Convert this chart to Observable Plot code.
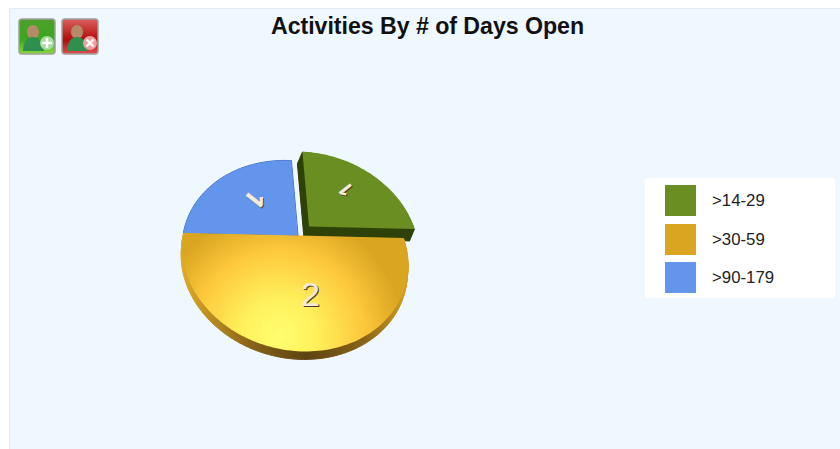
<!DOCTYPE html>
<html><head><meta charset="utf-8">
<script src="https://cdn.jsdelivr.net/npm/d3@7"></script>
<script src="https://cdn.jsdelivr.net/npm/@observablehq/plot@0.6"></script>
<style>
html,body{margin:0;padding:0;background:#fff;width:840px;height:449px;overflow:hidden;font-family:"Liberation Sans",Arial,sans-serif}
#panel{position:absolute;left:9px;top:8px;width:831px;height:441px;background:#eff7ff;border-left:1px solid #dfe8f0;border-top:1px solid #e4ecf4;box-sizing:border-box}
#chart{position:absolute;left:0;top:0}
#title{position:absolute;left:271px;top:13px;font-size:23.2px;font-weight:bold;color:#111;white-space:nowrap;letter-spacing:-.05px}
#legend{position:absolute;left:645px;top:178px;width:190px;height:120px;background:#fff;border-radius:2px}
.row{position:absolute;left:20px;width:170px;height:31px}
.sw{position:absolute;left:0;top:0;width:31px;height:31px}
.lb{position:absolute;left:47px;top:6px;font-size:16.8px;color:#222;white-space:nowrap}
.btn{position:absolute;top:18px;width:36px;height:34px}
</style></head><body>
<div id="panel"></div>
<div id="chart"></div>
<div id="title"></div>
<div id="legend"></div>
<svg class="btn" style="left:18px;width:38px;height:37px" viewBox="0 0 38 37"><defs><linearGradient id="gb" x1="0" y1="0" x2="0" y2="1"><stop offset="0" stop-color="#4f9f2a"/><stop offset=".6" stop-color="#39a81e"/><stop offset="1" stop-color="#8ad83a"/></linearGradient></defs><rect x="1" y="1" width="36" height="35" rx="3" fill="url(#gb)" stroke="#a0a0a0" stroke-width="1.5"/><ellipse cx="15" cy="14" rx="6" ry="7" fill="#b58a68"/><path d="M5 33q1-14 10-14t11 14z" fill="#2f8f4f"/><circle cx="29" cy="25" r="7" fill="#a8dca0"/><path d="M29 20v10M24 25h10" stroke="#fff" stroke-width="2.4"/></svg>
<svg class="btn" style="left:61px;width:38px;height:37px" viewBox="0 0 38 37"><defs><linearGradient id="rb" x1="0" y1="0" x2="0" y2="1"><stop offset="0" stop-color="#d9605f"/><stop offset=".6" stop-color="#b40a0a"/><stop offset="1" stop-color="#e05050"/></linearGradient></defs><rect x="1" y="1" width="36" height="35" rx="3" fill="url(#rb)" stroke="#a0a0a0" stroke-width="1.5"/><ellipse cx="16" cy="14" rx="6" ry="7" fill="#b58a68"/><path d="M6 33q1-14 10-14t11 14z" fill="#2f8f4f"/><circle cx="29" cy="25" r="7" fill="#e8a0a0"/><path d="M25.5 21.5l7 7M32.5 21.5l-7 7" stroke="#fff" stroke-width="2.4"/></svg>
<script>
const titleText = "Activities By # of Days Open";
const categories = [">14-29", ">30-59", ">90-179"];
const values = [1, 2, 1];
const colors = ["#6b8e23", "#daa520", "#6495ed"];

// Projection of the tilted disc, unit-disc (u,v) -> picture units
const cx = 297.5, cy = 235;
function proj(u, v) {
  const w = 1 - 0.215 * v + 0.04 * u;
  return [cx + (110 * u + 8 * v) / w, cy + (2.5 * u + 91 * v) / w];
}
const explode = [[11, -9], [0, 0], [0, 0]];
const depth = [[-5, 12], [-1, 8], [0, 0]];
const sideColors = ["#2f4209", "url(#yside)", "#3f66b0"];
const topColors = ["#6b8e23", "url(#ytop)", "#6495ed"];

const arcs = d3.pie().sort(null)(values);
function outline(a) {
  const pts = [[0, 0]];
  const n = Math.ceil((a.endAngle - a.startAngle) * 40);
  for (let i = 0; i <= n; i++) {
    const t = a.startAngle + (a.endAngle - a.startAngle) * i / n;
    pts.push([Math.sin(t), -Math.cos(t)]);
  }
  pts.push([0, 0]);
  return pts;
}
const sidePts = [], topPts = [];
const drawOrder = [2, 0, 1];
drawOrder.forEach(i => {
  const pts = outline(arcs[i]).map(([u, v]) => proj(u, v));
  const [ex, ey] = explode[i], [dx, dy] = depth[i];
  const steps = Math.max(1, Math.ceil(Math.abs(dy)));
  for (let s = steps; s >= 1; s--) {
    pts.forEach(([x, y]) => sidePts.push({
      key: i + "-" + s, i,
      x: x + ex + dx * s / steps, y: y + ey + dy * s / steps
    }));
  }
  pts.forEach(([x, y]) => topPts.push({key: String(i), i, x: x + ex, y: y + ey}));
});

const labelPos = [[346, 189, 232], [310, 295, 0], [254, 198, 128]];
const labelSize = [20, 34, 27];
const labelFont = ["Open Sans", "Liberation Sans", "Open Sans"];
const labelWeight = ["bold", "normal", "bold"];
const labels = values.map((v, i) => ({t: String(v), x: labelPos[i][0], y: labelPos[i][1], r: labelPos[i][2], s: labelSize[i], f: labelFont[i], w: labelWeight[i]}));

const marks = [];
drawOrder.forEach(i => {
  marks.push(Plot.line(sidePts.filter(d => d.i === i), {x: "x", y: "y", z: "key", fill: sideColors[i], stroke: sideColors[i], strokeWidth: 1, curve: "linear"}));
  marks.push(Plot.line(topPts.filter(d => d.i === i), {x: "x", y: "y", z: "key", fill: topColors[i], stroke: "none", curve: "linear"}));
});
labels.forEach(l => {
  const common = {text: "t", rotate: l.r, fontSize: l.s, fontFamily: l.f, fontWeight: l.w};
  marks.push(Plot.text([l], {...common, x: d => d.x + 1, y: d => d.y + 1, fill: "#4a3c28"}));
  marks.push(Plot.text([l], {...common, x: "x", y: "y", fill: "#f3ead9"}));
});

const plot = Plot.plot({
  width: 840, height: 449, margin: 0,
  style: {background: "transparent"},
  x: {domain: [0, 840], axis: null},
  y: {domain: [0, 449], range: [0, 449], axis: null},
  marks
});
const defs = document.createElementNS("http://www.w3.org/2000/svg", "defs");
defs.innerHTML = `
<radialGradient id="ytop" gradientUnits="userSpaceOnUse" cx="278" cy="335" r="125">
<stop offset="0" stop-color="#ffff70"/><stop offset=".3" stop-color="#fff05c"/><stop offset=".68" stop-color="#fdc83c"/><stop offset="1" stop-color="#daa520"/></radialGradient>
<linearGradient id="yside" gradientUnits="userSpaceOnUse" x1="180" y1="0" x2="410" y2="0">
<stop offset="0" stop-color="#e0ad28"/><stop offset=".3" stop-color="#8a6418"/><stop offset=".55" stop-color="#5d4310"/><stop offset=".8" stop-color="#8a6418"/><stop offset="1" stop-color="#d9a520"/></linearGradient>`;
plot.insertBefore(defs, plot.firstChild);
document.getElementById("chart").append(plot);
document.getElementById("title").textContent = titleText;
const legend = document.getElementById("legend");
const rowTops = [7, 46, 84];
categories.forEach((c, i) => {
  const r = document.createElement("div"); r.className = "row"; r.style.top = rowTops[i] + "px";
  r.innerHTML = `<div class="sw" style="background:${colors[i]}"></div><div class="lb">${c.replace(">", "&gt;")}</div>`;
  legend.append(r);
});
</script></body></html>
